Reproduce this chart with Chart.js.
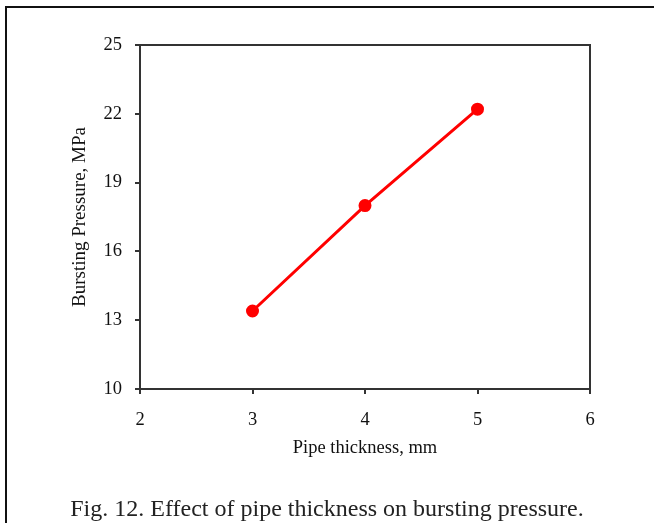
<!DOCTYPE html>
<html>
<head>
<meta charset="utf-8">
<script src="https://cdn.jsdelivr.net/npm/chart.js@4/dist/chart.umd.min.js"></script>
<style>
  html, body { margin: 0; padding: 0; background: #fff; overflow: hidden; }
  #wrap { position: relative; width: 654px; height: 523px; overflow: hidden; }
  #frame {
    position: absolute; left: 5px; top: 6px; width: 700px; height: 600px;
    border-left: 2px solid #111; border-top: 2px solid #111;
  }
  #cap {
    position: absolute; left: 0; top: 493px; width: 654px; text-align: center;
    font-family: "Liberation Serif", "DejaVu Serif", serif; font-size: 24px; color: #222;
    line-height: 30px; white-space: nowrap;
  }
  canvas { position: absolute; left: 0; top: 0; }
</style>
</head>
<body>
<div id="wrap">
  <div id="frame"></div>
  <canvas id="myChart" width="654" height="523"></canvas>
  <div id="cap">Fig. 12. Effect of pipe thickness on bursting pressure.</div>
</div>
<script>
let thickness = [3, 4, 5]
let pressure = [13.4, 18.0, 22.2]
let yTicks = [10, 13, 16, 19, 22, 25]
let xTicks = [2, 3, 4, 5, 6]

let serif = "'Liberation Serif', 'Times New Roman', serif"
let axisColor = "#333"

// draws the top and right edges of the plot box
let boxPlugin = {
  id: "box",
  afterDraw(chart) {
    let a = chart.chartArea
    let c = chart.ctx
    c.save()
    c.strokeStyle = axisColor
    c.lineWidth = 2
    c.beginPath()
    c.moveTo(a.left, a.top)
    c.lineTo(a.right, a.top)
    c.lineTo(a.right, a.bottom)
    c.stroke()
    c.restore()
  }
}

let ctx = document.getElementById("myChart").getContext("2d")

new Chart(ctx, {
  type: "scatter",
  data: {
    datasets: [{
      data: thickness.map((x, i) => ({ x: x, y: pressure[i] })),
      showLine: true,
      borderColor: "#ff0000",
      backgroundColor: "#ff0000",
      borderWidth: 3,
      pointRadius: 5,
      pointHoverRadius: 5
    }]
  },
  options: {
    responsive: false,
    animation: false,
    layout: { padding: { left: 0, right: 64, top: 45, bottom: 64 } },
    plugins: { legend: { display: false }, tooltip: { enabled: false } },
    scales: {
      x: {
        type: "linear",
        min: 2, max: 6,
        afterBuildTicks: (s) => { s.ticks = xTicks.map(v => ({ value: v })) },
        afterFit: (s) => { s.height = 70 },
        border: { color: axisColor, width: 2 },
        grid: { drawOnChartArea: false, tickLength: 5, color: axisColor, lineWidth: 2 },
        ticks: { color: "#111", padding: 15, font: { family: serif, size: 18.5 } },
        title: {
          display: true, text: "Pipe thickness, mm", color: "#111",
          font: { family: serif, size: 18.5 }, padding: 0
        }
      },
      y: {
        min: 10, max: 25,
        afterBuildTicks: (s) => { s.ticks = yTicks.map(v => ({ value: v })) },
        afterFit: (s) => { s.width = 140 },
        border: { color: axisColor, width: 2 },
        grid: { drawOnChartArea: false, tickLength: 5, color: axisColor, lineWidth: 2 },
        ticks: { color: "#111", padding: 13, font: { family: serif, size: 18.5 } },
        title: {
          display: true, text: "Bursting Pressure, MPa", color: "#111",
          font: { family: serif, size: 19 }, padding: { top: 69 }
        }
      }
    }
  },
  plugins: [boxPlugin]
})
</script>
</body>
</html>
